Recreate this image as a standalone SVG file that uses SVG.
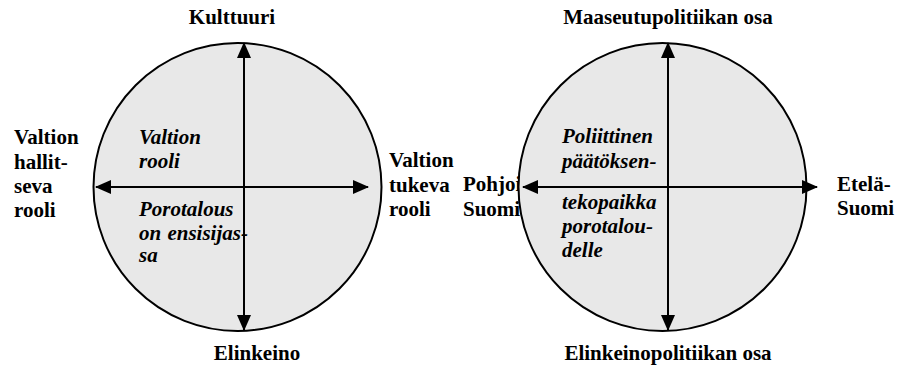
<svg xmlns="http://www.w3.org/2000/svg" width="900" height="369" viewBox="0 0 900 369">
<style>
text{font-family:'Liberation Serif','Times New Roman',serif;font-size:21px;font-weight:bold;fill:#000}
.it{font-style:italic}
.mid{text-anchor:middle}
.circ{fill:#e8e8e8;stroke:#000;stroke-width:2}
.ax{stroke:#000;stroke-width:2;fill:none;marker-start:url(#ah);marker-end:url(#ah)}
</style>
<defs>
<marker id="ah" viewBox="0 0 16 14" refX="15" refY="7" markerWidth="16" markerHeight="14" markerUnits="userSpaceOnUse" orient="auto-start-reverse">
<path d="M0,0 L16,7 L0,14 Z" fill="#000"/>
</marker>
</defs>
<rect width="900" height="369" fill="#fff"/>
<g id="labels-left">
<text class="mid" x="232" y="24">Kulttuuri</text>
<text class="mid" x="257" y="360">Elinkeino</text>
<text x="14" y="144">Valtion</text>
<text x="14" y="169">hallit-</text>
<text x="14" y="193">seva</text>
<text x="14" y="217">rooli</text>
<text x="389" y="167">Valtion</text>
<text x="389" y="192">tukeva</text>
<text x="389" y="216">rooli</text>
</g>
<g id="labels-right">
<text class="mid" x="668" y="24">Maaseutupolitiikan osa</text>
<text class="mid" x="668" y="360">Elinkeinopolitiikan osa</text>
<text x="463" y="191">Pohjois-</text>
<text x="463" y="216">Suomi</text>
<text x="837" y="191">Etelä-</text>
<text x="837" y="215">Suomi</text>
</g>
<g id="circle-left"><circle class="circ" cx="237.5" cy="187" r="144"/></g>
<g id="circle-right"><circle class="circ" cx="662.5" cy="187" r="144"/></g>
<g id="connectors">
<line class="ax" x1="244" y1="43" x2="244" y2="330"/>
<line class="ax" x1="96" y1="187" x2="368" y2="187"/>
<line class="ax" x1="668" y1="43" x2="668" y2="330"/>
<line class="ax" x1="523" y1="187" x2="817" y2="187"/>
</g>
<g id="inner-left">
<text class="it" x="139" y="144">Valtion</text>
<text class="it" x="139" y="168">rooli</text>
<text class="it" x="139" y="216">Porotalous</text>
<text class="it" x="139" y="240" word-spacing="1">on ensisijas-</text>
<text class="it" x="139" y="262">sa</text>
</g>
<g id="inner-right">
<text class="it" x="562" y="143">Poliittinen</text>
<text class="it" x="562" y="168">päätöksen-</text>
<text class="it" x="562" y="209">tekopaikka</text>
<text class="it" x="562" y="233">porotalou-</text>
<text class="it" x="562" y="257">delle</text>
</g>
</svg>
